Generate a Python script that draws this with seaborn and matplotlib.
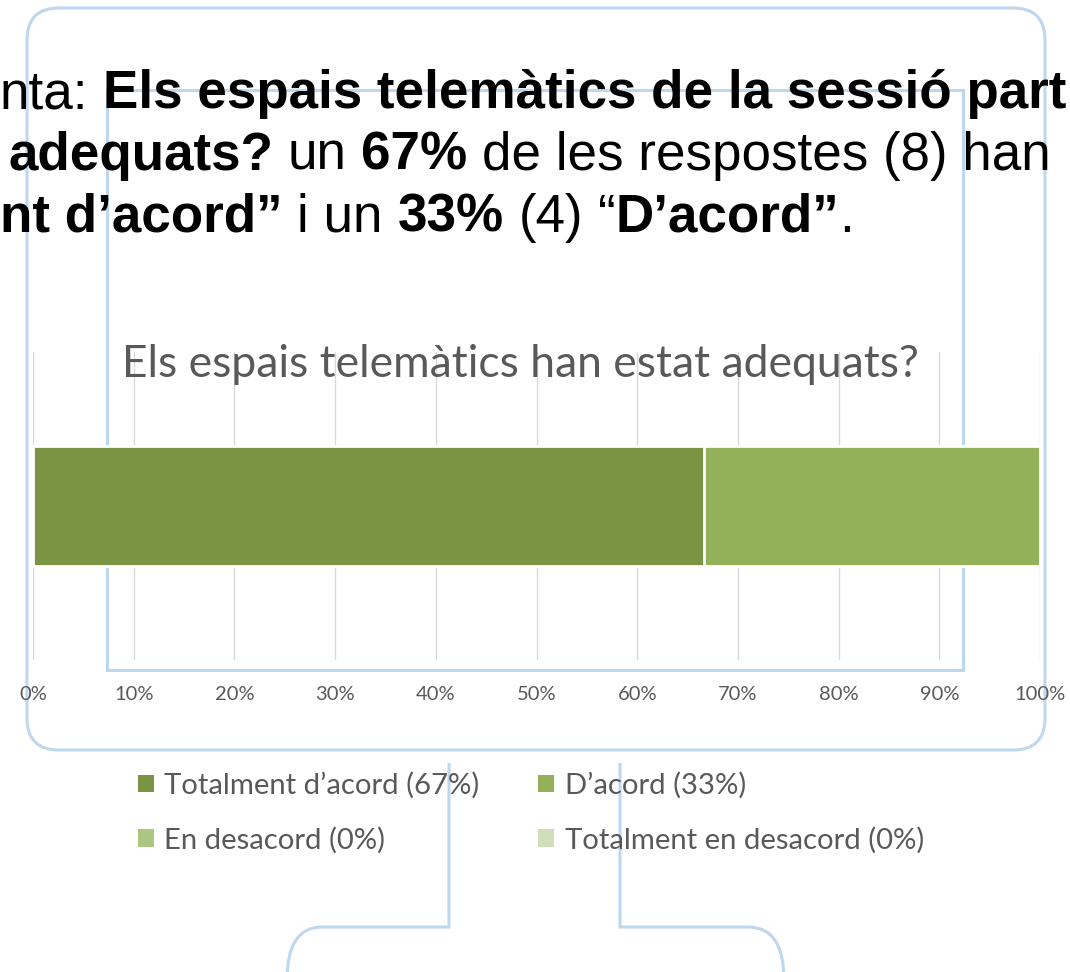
import numpy as np
import pandas as pd
import seaborn as sns
from matplotlib import pyplot as plt
from matplotlib.patches import FancyBboxPatch, Rectangle, PathPatch, Patch
from matplotlib.path import Path
from matplotlib.ticker import PercentFormatter

# dades de l'enquesta
answers = ["Totalment d’acord", "D’acord", "En desacord", "Totalment en desacord"]
counts = [8, 4, 0, 0]
colors = ["#7A9443", "#93B158", "#ABC582", "#D1DEBC"]
question = "Els espais telemàtics han estat adequats?"
x_ticks = [0, 0.1, 0.2, 0.3, 0.4, 0.5, 0.6, 0.7, 0.8, 0.9, 1.0]

# text de la diapositiva (tallat pels marges), (text, negreta, espai abans)
line1 = [("nta:", False, False), ("Els espais telemàtics de la sessió part", True, True)]
line2 = [("adequats?", True, False), ("un", False, True), ("67%", True, True),
         ("de les respostes (8) han", False, True)]
line3 = [("nt d’acord”", True, False), ("i un", False, True), ("33%", True, True),
         ("(4)", False, True), ("“", False, True), ("D’acord”", True, False), (".", False, False)]

share = np.array(counts) / sum(counts)
df = pd.DataFrame({"answer": answers, "share": share, "cum": np.cumsum(share), "q": "q"})
labels = [f"{a} ({p:.0%})" for a, p in zip(answers, share)]

sns.set_style("white")
plt.rcParams["font.family"] = ["Lato", "DejaVu Sans"]

W, H = 1070, 972
fig = plt.figure(figsize=(W / 100, H / 100), dpi=100)
renderer = fig.canvas.get_renderer()


def text_width(s, **kw):
    t = fig.text(0, 0, s, **kw)
    w = t.get_window_extent(renderer).width
    t.remove()
    return w


def fit_size(s, target, **kw):
    return 30 * target / text_width(s, fontsize=30, **kw)


# marcs blau clar del fons (SmartArt)
bg = fig.add_axes([0, 0, 1, 1], zorder=-1)
bg.set_xlim(0, W)
bg.set_ylim(H, 0)
bg.axis("off")
frame = dict(fill=False, edgecolor="#BDD7EE", linewidth=2.2)
bg.add_patch(FancyBboxPatch((27, 8), 1045 - 27, 750 - 8,
                            boxstyle="round,pad=0,rounding_size=32", **frame))
bg.add_patch(Rectangle((107, 90), 963 - 107, 670 - 90, **frame))
codes = [Path.MOVETO, Path.LINETO, Path.LINETO, Path.CURVE3, Path.CURVE3]
bg.add_patch(PathPatch(Path([(449, 763), (449, 927), (322, 927), (287, 927), (287, 980)], codes), **frame))
bg.add_patch(PathPatch(Path([(620, 763), (620, 927), (748, 927), (784, 927), (784, 980)], codes), **frame))

# gràfic de barres apilades
ax = fig.add_axes([33 / W, 1 - 660 / H, (1040 - 33) / W, (660 - 352) / H])
ax.patch.set_alpha(0)
for i in reversed(range(len(answers))):
    sns.barplot(data=df.iloc[[i]], x="cum", y="q", color=colors[i], saturation=1,
                width=0.39, edgecolor="white", linewidth=2, ax=ax)
ax.set_xlim(0, 1)
ax.set_ylim(0.5, -0.5)
ax.set_xticks(x_ticks)
ax.xaxis.set_major_formatter(PercentFormatter(1.0, decimals=0))
ax.set_yticks([])
ax.set_xlabel("")
ax.set_ylabel("")
ax.xaxis.grid(True, color="#D9D9D9", linewidth=1.0)
ax.set_axisbelow(True)
ax.tick_params(axis="x", length=0, pad=19, labelsize=14.5, labelcolor="#595959")
sns.despine(ax=ax, left=True, bottom=True)

title_size = fit_size(question, 796)
fig.text(520 / W, 1 - 377 / H, question, ha="center", va="baseline",
         fontsize=title_size, color="#595959")

# llegenda en dues columnes, ordenada per files
leg_size = fit_size(labels[0], 315)
handles = [Patch(facecolor=c, edgecolor="none") for c in colors]
order = [0, 2, 1, 3]
fig.legend([handles[i] for i in order], [labels[i] for i in order], ncol=2,
           loc="upper left", bbox_to_anchor=(138 / W, 1 - 772 / H),
           frameon=False, fontsize=leg_size, labelcolor="#595959", borderpad=0,
           borderaxespad=0, handlelength=0.55, handleheight=0.55, handletextpad=0.35,
           columnspacing=2.0, labelspacing=0.95)

# text superior de la diapositiva
top_font = ["Liberation Sans", "DejaVu Sans"]
top_size = fit_size(line1[1][0], 965, family=top_font, fontweight="bold")
space = (text_width("n n", family=top_font, fontsize=top_size)
         - text_width("nn", family=top_font, fontsize=top_size))


def write_line(x, baseline, parts):
    for s, bold, gap in parts:
        if gap:
            x += space
        t = fig.text(x / W, 1 - baseline / H, s, va="baseline", color="black",
                     family=top_font, fontsize=top_size,
                     fontweight="bold" if bold else "normal")
        x += t.get_window_extent(renderer).width


write_line(0, 108, line1)
write_line(8, 170, line2)
write_line(0, 232, line3)

fig.savefig("out.png", dpi=100)
